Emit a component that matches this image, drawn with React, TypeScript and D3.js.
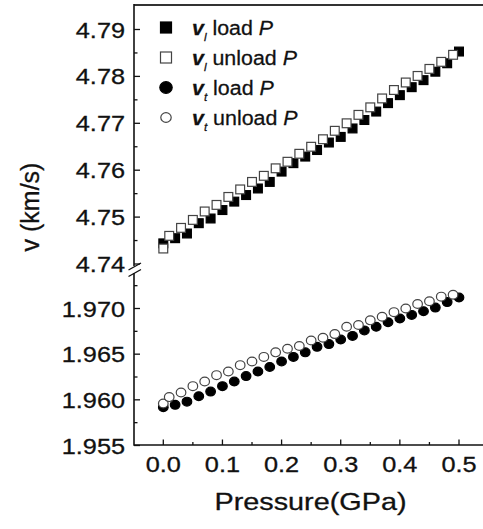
import React from 'react';
import { scaleLinear } from 'd3';

// pressure (GPa)
const pressureLoad = [0, 0.02, 0.04, 0.06, 0.08, 0.1, 0.12, 0.14, 0.16, 0.18, 0.2, 0.22, 0.24, 0.26, 0.28, 0.3, 0.32, 0.34, 0.36, 0.38, 0.4, 0.42, 0.44, 0.46, 0.48, 0.5];
const pressureUnload = [0, 0.01, 0.03, 0.05, 0.07, 0.09, 0.11, 0.13, 0.15, 0.17, 0.19, 0.21, 0.23, 0.25, 0.27, 0.29, 0.31, 0.33, 0.35, 0.37, 0.39, 0.41, 0.43, 0.45, 0.47, 0.49];

// velocities (km/s)
const vlLoad = [4.7444, 4.7455, 4.7465, 4.7487, 4.7497, 4.7515, 4.7533, 4.7547, 4.7561, 4.7575, 4.7597, 4.7615, 4.7629, 4.7643, 4.7659, 4.7671, 4.7689, 4.7707, 4.7725, 4.7743, 4.776, 4.7777, 4.7792, 4.781, 4.7828, 4.7853];
const vlUnload = [4.7433, 4.746, 4.7477, 4.7494, 4.7512, 4.7526, 4.7543, 4.7559, 4.7575, 4.7588, 4.7604, 4.7618, 4.7635, 4.765, 4.7666, 4.7684, 4.77, 4.7718, 4.7734, 4.7753, 4.7771, 4.7787, 4.7801, 4.7816, 4.7831, 4.7846];
const vtLoad = [1.9592, 1.95945, 1.9598, 1.9604, 1.9609, 1.9615, 1.962, 1.9626, 1.9631, 1.9636, 1.9642, 1.9647, 1.9652, 1.9658, 1.9661, 1.9666, 1.967, 1.9676, 1.968, 1.9685, 1.9689, 1.9693, 1.9697, 1.9701, 1.9707, 1.9712];
const vtUnload = [1.9596, 1.9603, 1.9608, 1.9615, 1.962, 1.9627, 1.9631, 1.9638, 1.9642, 1.9647, 1.9652, 1.9656, 1.9659, 1.9665, 1.9668, 1.9672, 1.968, 1.9682, 1.9687, 1.9691, 1.9696, 1.97, 1.9705, 1.9708, 1.9713, 1.9715];

const xTicks = [0, 0.1, 0.2, 0.3, 0.4, 0.5];
const xMinor = [0.05, 0.15, 0.25, 0.35, 0.45];
const upperTicks = [4.74, 4.75, 4.76, 4.77, 4.78, 4.79];
const upperMinor = [4.745, 4.755, 4.765, 4.775, 4.785];
const lowerTicks = [1.955, 1.96, 1.965, 1.97];
const lowerMinor = [1.9575, 1.9625, 1.9675, 1.9725];

const legendItems = [
  { sub: 'l', label: 'load', shape: 'square', filled: true },
  { sub: 'l', label: 'unload', shape: 'square', filled: false },
  { sub: 't', label: 'load', shape: 'circle', filled: true },
  { sub: 't', label: 'unload', shape: 'circle', filled: false },
];

const W = 483;
const H = 529;
const left = 134;
const top = 5;
const bottom = 445;
const font = 'Arial, "Liberation Sans", Helvetica, sans-serif';
const stretch = 1.15;
const ink = '#111';

export default function App() {
  const x = scaleLinear().domain([0, 0.5]).range([163.3, 459]);
  const yUp = scaleLinear().domain([4.74, 4.79]).range([264, 29.5]);
  const yLow = scaleLinear().domain([1.955, 1.97]).range([445.5, 308.5]);

  const sq = (cx: number, cy: number, filled: boolean, key: string, s = 8.8) => (
    <rect key={key} x={cx - s / 2} y={cy - s / 2} width={s} height={s}
      fill={filled ? '#000' : '#fff'} stroke={filled ? '#000' : '#444'} strokeWidth={1.2} />
  );
  const circ = (cx: number, cy: number, filled: boolean, key: string, r = 4.6) => (
    <ellipse key={key} cx={cx} cy={cy} rx={r + 0.2} ry={r - 0.2}
      fill={filled ? '#000' : '#fff'} stroke={filled ? '#000' : '#444'} strokeWidth={1.2} />
  );

  const tickLabel = (tx: number, ty: number, txt: string, anchor: string, key: string) => (
    <text key={key} transform={`translate(${tx},${ty}) scale(${stretch},1)`} textAnchor={anchor}
      fontSize={22} fontFamily={font} fill={ink} stroke={ink} strokeWidth={0.3}>{txt}</text>
  );

  return (
    <svg width={W} height={H} style={{ position: 'absolute', left: 0, top: 0, background: '#fff' }}>
      {/* frame */}
      <line x1={left} x2={W} y1={top} y2={top} stroke="#333" strokeWidth={2} />
      <line x1={left} x2={W} y1={bottom} y2={bottom} stroke={ink} strokeWidth={1.6} />
      <line x1={left} x2={left} y1={top - 1} y2={266} stroke={ink} strokeWidth={1.6} />
      <line x1={left} x2={left} y1={273} y2={bottom + 0.8} stroke={ink} strokeWidth={1.6} />
      {/* axis break */}
      <line x1={128.5} y1={270} x2={141} y2={263} stroke={ink} strokeWidth={1.4} />
      <line x1={128.5} y1={276.5} x2={141} y2={269.5} stroke={ink} strokeWidth={1.4} />

      {/* y ticks upper */}
      {upperTicks.map(v => (
        <g key={'u' + v}>
          <line x1={left} x2={left + 6} y1={yUp(v)} y2={yUp(v)} stroke={ink} strokeWidth={1.3} />
          {tickLabel(125, yUp(v) + 8, v.toFixed(2), 'end', 'ul' + v)}
        </g>
      ))}
      {upperMinor.map(v => (
        <line key={'um' + v} x1={left} x2={left + 3.5} y1={yUp(v)} y2={yUp(v)} stroke={ink} strokeWidth={1.3} />
      ))}
      {lowerTicks.map(v => (
        <g key={'l' + v}>
          <line x1={left} x2={left + 6} y1={yLow(v)} y2={yLow(v)} stroke={ink} strokeWidth={1.3} />
          {tickLabel(125, yLow(v) + 8, v.toFixed(3), 'end', 'll' + v)}
        </g>
      ))}
      {lowerMinor.map(v => (
        <line key={'lm' + v} x1={left} x2={left + 3.5} y1={yLow(v)} y2={yLow(v)} stroke={ink} strokeWidth={1.3} />
      ))}

      {/* x ticks */}
      {xTicks.map(v => (
        <g key={'x' + v}>
          <line x1={x(v)} x2={x(v)} y1={bottom} y2={bottom - 5.5} stroke={ink} strokeWidth={1.3} />
          {tickLabel(x(v), 472, v.toFixed(1), 'middle', 'xl' + v)}
        </g>
      ))}
      {xMinor.map(v => (
        <line key={'xm' + v} x1={x(v)} x2={x(v)} y1={bottom} y2={bottom - 3} stroke={ink} strokeWidth={1.3} />
      ))}

      {/* axis titles */}
      <text transform="translate(310.5,510) scale(1.2,1)" textAnchor="middle" fontSize={24} fontFamily={font}
        fill={ink} stroke={ink} strokeWidth={0.3}>
        Pressure(GPa)
      </text>
      <text transform="translate(39,207) rotate(-90)" textAnchor="middle" fontSize={25} fontFamily={font}
        fill={ink} stroke={ink} strokeWidth={0.3}>
        v (km/s)
      </text>

      {/* data */}
      {pressureLoad.map((p, i) => sq(x(p), yUp(vlLoad[i]), true, 'a' + i))}
      {pressureUnload.map((p, i) => sq(x(p), yUp(vlUnload[i]), false, 'b' + i))}
      {pressureLoad.map((p, i) => circ(x(p), yLow(vtLoad[i]), true, 'c' + i))}
      {pressureUnload.map((p, i) => circ(x(p), yLow(vtUnload[i]), false, 'd' + i))}

      {/* legend */}
      {legendItems.map((it, i) => {
        const cy = 27.5 + i * 30;
        return (
          <g key={'lg' + i}>
            {it.shape === 'square'
              ? sq(166, cy, it.filled, 'ls' + i, 11)
              : circ(166, cy, it.filled, 'lc' + i, it.filled ? 6 : 5)}
            <text transform={`translate(192,${cy + 7.5}) scale(1.07,1)`} fontSize={20} fontFamily={font}
              fill={ink} stroke={ink} strokeWidth={0.25}>
              <tspan fontWeight="bold" fontStyle="italic">v</tspan>
              <tspan fontSize={11} fontStyle="italic" dy={6}>{it.sub}</tspan>
              <tspan dy={-6}>{' ' + it.label + ' '}</tspan>
              <tspan fontStyle="italic">P</tspan>
            </text>
          </g>
        );
      })}
    </svg>
  );
}
